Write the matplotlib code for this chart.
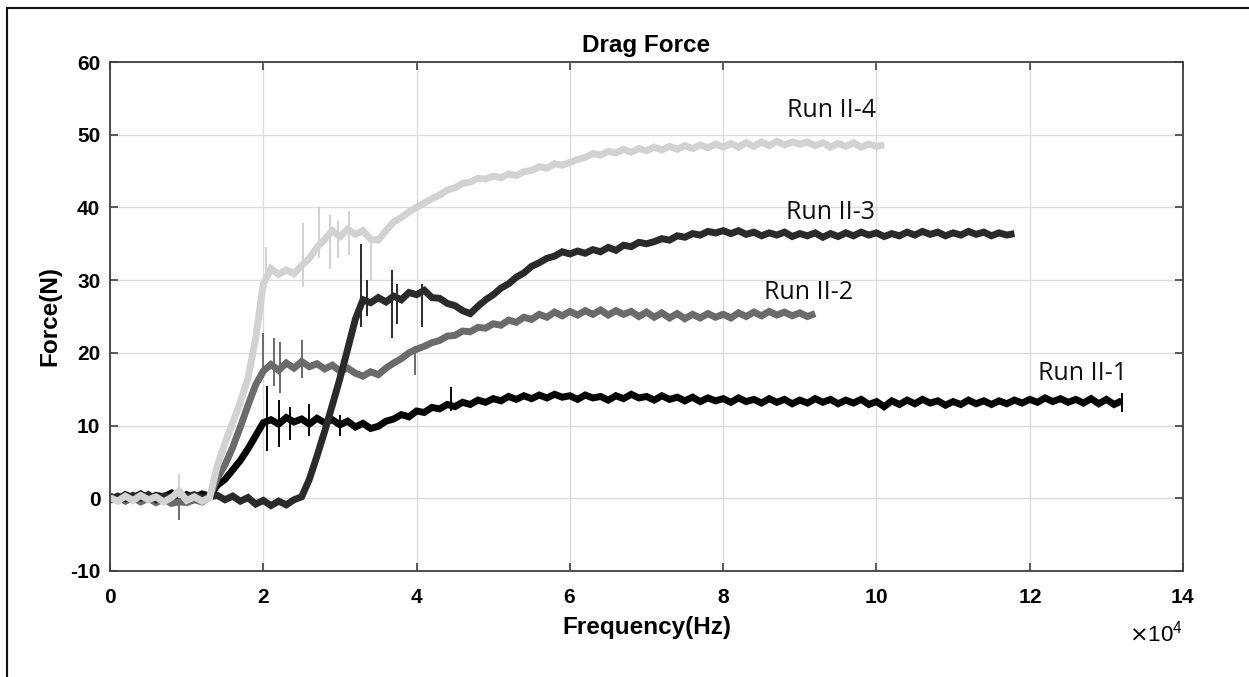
import numpy as np
import matplotlib
matplotlib.use("Agg")
import matplotlib.pyplot as plt
from matplotlib.lines import Line2D
from matplotlib.ticker import ScalarFormatter

FREQ_STEP_HZ = 1000

run1_force = [
    0.3, -0.2, 0.5, 0.0, 0.6, -0.1, 0.4, 0.2, 0.7, -0.3, 0.5, 0.1, 0.6, 0.3,
    1.8, 2.6, 3.9, 5.2, 6.8, 8.6, 10.4,
    10.8, 10.2, 11.1, 10.5, 10.9, 10.2, 11.0, 10.4, 10.8, 10.1, 10.6, 9.8, 10.3, 9.6, 9.9,
    10.6, 10.9, 11.5, 11.2, 12.0, 11.8, 12.5, 12.3, 12.9, 12.6,
    13.2, 12.9, 13.5, 13.2, 13.7, 13.4, 14.0, 13.6, 14.1, 13.7,
    14.2, 13.8, 14.3, 13.9, 14.1, 13.6, 14.2, 13.8, 14.0, 13.5, 14.1, 13.7, 14.3, 13.8, 14.0,
    13.5, 14.1, 13.6, 13.9, 13.4, 13.9, 13.3, 13.8, 13.4, 13.7,
    13.2, 13.8, 13.3, 13.6, 13.1, 13.7, 13.2, 13.6, 13.0, 13.5,
    13.1, 13.7, 13.2, 13.6, 13.0, 13.5, 13.1, 13.6, 12.9, 13.3,
    12.6, 13.4, 12.9, 13.5, 13.0, 13.6, 13.1, 13.4, 12.8, 13.3,
    12.9, 13.5, 13.0, 13.4, 12.9, 13.4, 13.0, 13.5, 13.1, 13.6,
    13.2, 13.8, 13.3, 13.7, 13.2, 13.6, 13.1, 13.7, 13.0, 13.6, 12.9, 13.4,
]

run2_force = [
    -0.3, 0.2, -0.4, 0.1, -0.5, 0.0, -0.6, -0.1, -0.7, -0.5, -0.6, -0.2, -0.5, 0.2,
    2.8, 4.6, 7.0, 9.8, 12.8, 15.6, 17.5,
    18.4, 17.6, 18.6, 17.9, 18.8, 18.1, 18.5, 17.8, 18.3, 17.5, 17.9, 17.2, 16.8, 17.4, 17.0,
    17.9, 18.6, 19.2, 20.0, 20.5, 20.9, 21.4, 21.7, 22.3, 22.4,
    23.0, 22.9, 23.5, 23.4, 24.0, 23.8, 24.5, 24.2, 24.9, 24.6,
    25.3, 24.9, 25.6, 25.1, 25.7, 25.2, 25.8, 25.3, 25.9, 25.2, 25.8, 25.3, 25.7, 25.0, 25.6,
    24.9, 25.5, 24.8, 25.4, 24.7, 25.3, 24.8, 25.4, 24.9, 25.3,
    24.8, 25.5, 25.0, 25.6, 25.1, 25.7, 25.2, 25.6, 25.1, 25.5, 25.0, 25.4,
]

run3_force = [
    -0.2, 0.3, -0.1, 0.4, 0.0, 0.5, -0.2, 0.3, 0.1, 0.6, 0.2, 0.5, 0.0, 0.2,
    0.4, -0.2, 0.3, -0.4, 0.1, -0.8, -0.3, -1.0, -0.4, -0.9, -0.2,
    0.2, 2.6, 5.8, 9.2, 12.8, 16.5, 20.5, 24.6, 27.3,
    26.9, 27.6, 27.0, 27.8, 27.3, 28.3, 28.0, 28.6, 27.6, 27.5, 26.8, 26.5, 25.8, 25.4,
    26.4, 27.3, 28.0, 28.9, 29.5, 30.4, 31.0, 31.9, 32.4, 33.0, 33.3, 33.9, 33.6,
    34.0, 33.7, 34.2, 33.9, 34.5, 34.1, 34.8, 34.6, 35.2, 35.0,
    35.3, 35.7, 35.5, 36.1, 35.9, 36.4, 36.2, 36.7, 36.5, 36.8,
    36.4, 36.8, 36.3, 36.6, 36.1, 36.5, 36.2, 36.6, 36.0, 36.4,
    36.1, 36.5, 35.9, 36.4, 36.0, 36.5, 36.1, 36.6, 36.2, 36.5,
    36.0, 36.4, 36.1, 36.6, 36.2, 36.7, 36.3, 36.6, 36.1, 36.5,
    36.2, 36.7, 36.3, 36.6, 36.1, 36.5, 36.2, 36.4,
]

run4_force = [
    0.1, -0.4, 0.3, -0.3, 0.4, -0.2, 0.2, -0.5, 0.1, 1.0, -0.3, 0.2, -0.4, 0.1,
    4.5, 7.6, 10.4, 13.2, 16.5, 22.0, 29.5, 31.6,
    30.8, 31.4, 30.9, 32.0, 33.0, 34.5, 35.6, 36.8, 36.0, 37.0, 36.3, 36.8, 35.6, 35.5,
    36.8, 38.0, 38.6, 39.4, 40.0,
    40.6, 41.2, 41.7, 42.4, 42.7, 43.3, 43.5, 44.0, 43.9, 44.3,
    44.1, 44.6, 44.4, 44.9, 45.1, 45.6, 45.4, 46.0, 45.8, 46.2,
    46.6, 46.9, 47.4, 47.2, 47.7, 47.5, 48.0, 47.6, 48.1, 47.8,
    48.3, 47.9, 48.4, 48.0, 48.5, 48.1, 48.6, 48.2, 48.7, 48.3,
    48.8, 48.3, 48.9, 48.4, 49.0, 48.5, 49.1, 48.6, 49.0, 48.7,
    49.0, 48.5, 48.9, 48.3, 48.8, 48.4, 48.9, 48.3, 48.7, 48.4, 48.6,
]

# short transient spikes: frequency (Hz), low (N), high (N)
run1_spike_freq = [20500, 22000, 23500, 26000, 30000, 44500, 132000]
run1_spike_low = [6.5, 7.0, 8.0, 8.5, 8.5, 12.0, 11.8]
run1_spike_high = [15.5, 13.5, 12.5, 13.0, 11.5, 15.3, 14.5]

run2_spike_freq = [9000, 20000, 21400, 22200, 25000, 39800]
run2_spike_low = [-3.0, 16.5, 15.5, 14.5, 16.5, 17.0]
run2_spike_high = [0.0, 22.7, 22.0, 21.5, 21.8, 21.0]

run3_spike_freq = [32800, 33500, 36800, 37500, 40700]
run3_spike_low = [23.5, 25.0, 22.0, 24.0, 23.5]
run3_spike_high = [35.0, 30.0, 31.4, 29.5, 29.5]

run4_spike_freq = [9000, 20400, 25200, 27200, 28700, 29800, 31200, 34000]
run4_spike_low = [0.0, 29.0, 29.0, 33.0, 31.5, 33.0, 33.5, 30.0]
run4_spike_high = [3.4, 34.5, 37.8, 40.0, 39.0, 38.2, 39.5, 36.0]

run_names = ["Run II-1", "Run II-2", "Run II-3", "Run II-4"]
label_freq = [126900, 91100, 94000, 94100]
label_force = [17.2, 28.3, 39.3, 53.4]

colors = ["#050505", "#6b6b6b", "#2a2a2a", "#d2d2d2"]

runs = [run1_force, run2_force, run3_force, run4_force]
spikes = [
    (run1_spike_freq, run1_spike_low, run1_spike_high),
    (run2_spike_freq, run2_spike_low, run2_spike_high),
    (run3_spike_freq, run3_spike_low, run3_spike_high),
    (run4_spike_freq, run4_spike_low, run4_spike_high),
]

plt.rcParams['font.family'] = ['Liberation Sans', 'DejaVu Sans']
plt.rcParams['axes.unicode_minus'] = False

fig = plt.figure(figsize=(12.49, 6.77), dpi=100)
ax = fig.add_axes([0.0881, 0.1566, 0.8591, 0.7518])

for force, (sf, lo, hi), col in zip(runs, spikes, colors):
    freq = np.arange(len(force)) * FREQ_STEP_HZ
    ax.plot(freq, force, color=col, lw=5.0, solid_joinstyle='miter',
            solid_capstyle='butt')
    ax.vlines(sf, lo, hi, color=col, lw=1.4)

for name, fx, fy in zip(run_names, label_freq, label_force):
    ax.text(fx, fy, name, ha='center', va='center', fontsize=18,
            family=['Open Sans', 'DejaVu Sans'], color='#111111')

ax.set_xlim(0, 140000)
ax.set_ylim(-10, 60)
ax.set_xticks(np.arange(0, 140001, 20000))
ax.set_yticks(np.arange(-10, 61, 10))

# tick labels in units of 1e4 Hz; the multiplier is drawn below, MATLAB style
fmt = ScalarFormatter(useMathText=True)
fmt.set_scientific(True)
fmt.set_powerlimits((4, 4))
ax.xaxis.set_major_formatter(fmt)
ax.xaxis.get_offset_text().set_visible(False)
ax.text(1.0, -0.122, r'$\times\mathdefault{10^{4}}$', transform=ax.transAxes,
        ha='right', va='center', fontsize=16)

ax.grid(True, color='#dcdcdc', lw=1.0)
ax.set_axisbelow(True)
ax.tick_params(direction='in', length=6, width=1.2, color='#404040',
               top=True, right=True, labelsize=15)
ax.tick_params(axis='x', pad=12)
ax.tick_params(axis='y', pad=7)
for lab in ax.get_xticklabels() + ax.get_yticklabels():
    lab.set_fontweight('bold')
for sp in ax.spines.values():
    sp.set_color('#404040')
    sp.set_linewidth(1.3)

ax.set_title('Drag Force', fontsize=17.5, fontweight='bold', pad=7)
ax.set_xlabel('Frequency(Hz)', fontsize=17.5, fontweight='bold', labelpad=7)
ax.set_ylabel('Force(N)', fontsize=17.5, fontweight='bold', labelpad=6)

# frame around the whole figure (top and left edges visible in the source)
fig.add_artist(Line2D([7 / 1249, 1], [1 - 8 / 677, 1 - 8 / 677],
                      transform=fig.transFigure, color='#111111', lw=1.5))
fig.add_artist(Line2D([7 / 1249, 7 / 1249], [0, 1 - 8 / 677],
                      transform=fig.transFigure, color='#111111', lw=1.5))

fig.savefig('out.png', dpi=100)
